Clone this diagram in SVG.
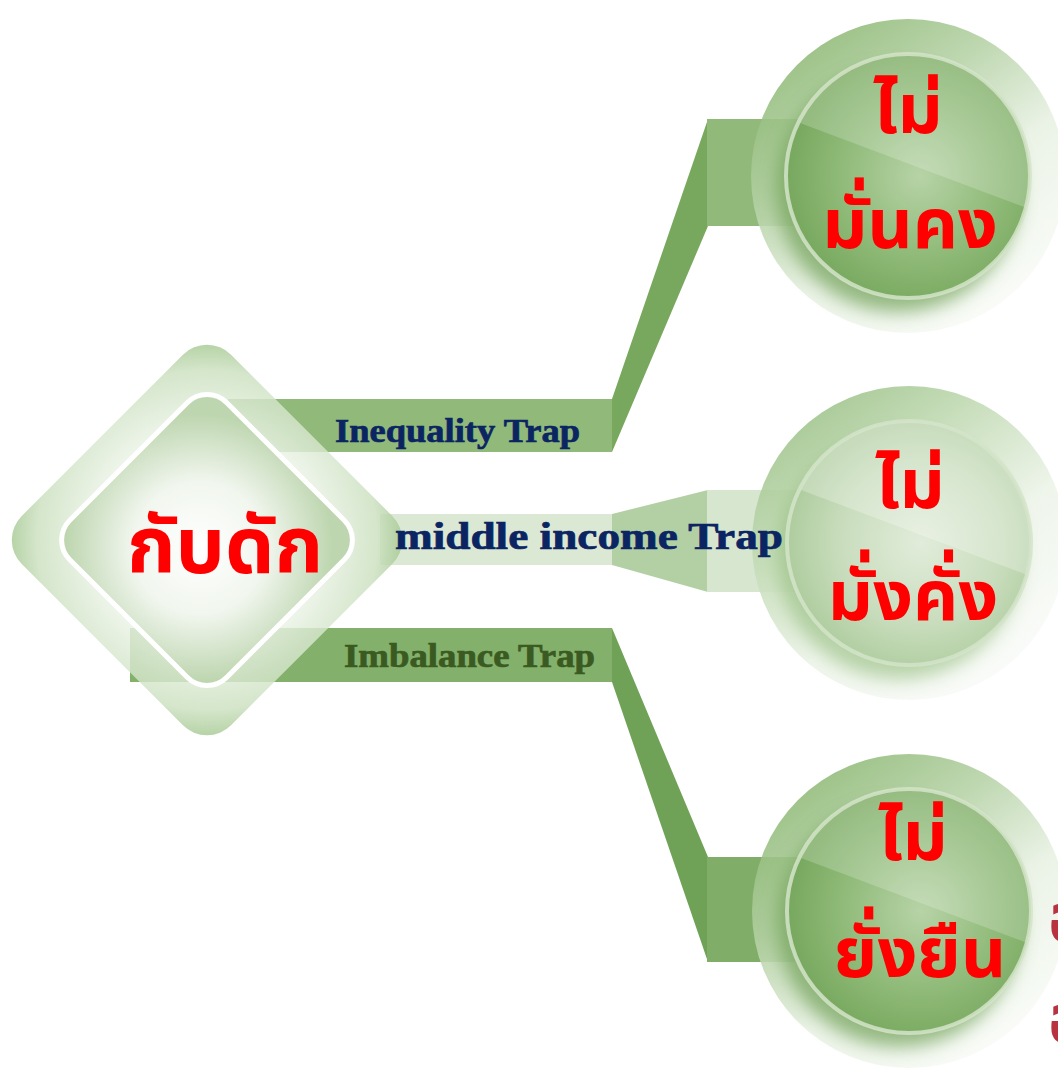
<svg xmlns="http://www.w3.org/2000/svg" width="1058" height="1072" viewBox="0 0 1058 1072">
<style>
.thai{font-family:'Noto Sans Thai','Noto Sans','DejaVu Sans',sans-serif;font-weight:bold;fill:#ff0000;text-anchor:middle}
.lbl{font-family:'Liberation Serif','DejaVu Serif',serif;font-weight:bold;stroke-width:0.7}
.rim{fill:none;stroke:#d3e4c9;stroke-width:4;stroke-opacity:0.85}
</style>
<defs>
<linearGradient id="ringG" x1="0.1" y1="0.05" x2="0.75" y2="0.95">
<stop offset="0" stop-color="#86b46c"/>
<stop offset="0.35" stop-color="#b4d1a4"/>
<stop offset="0.65" stop-color="#e8f1e3"/>
<stop offset="1" stop-color="#f8fbf6"/>
</linearGradient>
<linearGradient id="ringM" x1="0.1" y1="0.05" x2="0.75" y2="0.95">
<stop offset="0" stop-color="#98bf83"/>
<stop offset="0.35" stop-color="#c6ddb9"/>
<stop offset="0.65" stop-color="#edf4e9"/>
<stop offset="1" stop-color="#f9fbf8"/>
</linearGradient>
<radialGradient id="coreG" cx="0.55" cy="0.5" r="0.6">
<stop offset="0" stop-color="#b7d3a7"/>
<stop offset="0.55" stop-color="#8fba78"/>
<stop offset="1" stop-color="#72a458"/>
</radialGradient>
<radialGradient id="coreM" cx="0.55" cy="0.5" r="0.6">
<stop offset="0" stop-color="#e1ecda"/>
<stop offset="0.55" stop-color="#c9ddbd"/>
<stop offset="1" stop-color="#a8c897"/>
</radialGradient>
<radialGradient id="diaIn" cx="0.5" cy="0.55" r="0.6">
<stop offset="0" stop-color="#ffffff"/>
<stop offset="0.5" stop-color="#f1f6ee"/>
<stop offset="1" stop-color="#bed6b0"/>
</radialGradient>
<radialGradient id="diaOut" cx="0.5" cy="0.5" r="0.72">
<stop offset="0.5" stop-color="#eef5ea"/>
<stop offset="0.8" stop-color="#cbe0bf"/>
<stop offset="1" stop-color="#8cb974"/>
</radialGradient>
<filter id="blur" x="-30%" y="-30%" width="160%" height="160%"><feGaussianBlur stdDeviation="9"/></filter>
<clipPath id="upper"><polygon points="-140,-65 140,40 140,-140 -140,-140"/></clipPath>
</defs>

<rect width="1058" height="1072" fill="#ffffff"/>

<g id="connectors">
<rect x="228" y="399" width="384" height="53" fill="#90b97a"/>
<polygon points="612,399 708,119 708,226 612,452" fill="#77a85d"/>
<rect x="707" y="119" width="100" height="107" fill="#90b97a"/>
<rect x="380" y="514" width="232" height="51" fill="#dbe8d3"/>
<polygon points="612,514 708,490 708,592 612,565" fill="#b3cfa4"/>
<rect x="707" y="490" width="100" height="102" fill="#d7e6cf"/>
<rect x="130" y="628" width="482" height="54" fill="#83b06b"/>
<polygon points="612,628 708,857 708,962 612,682" fill="#6fa257"/>
<rect x="707" y="857" width="100" height="105" fill="#80ad67"/>
</g>

<g id="node-trap">
<rect x="-148" y="-148" width="296" height="296" rx="34" transform="translate(207,540) rotate(45)" fill="url(#diaOut)" fill-opacity="0.82"/>
<rect x="-111" y="-111" width="222" height="222" rx="28" transform="translate(207,540) rotate(45)" fill="url(#diaIn)" stroke="#ffffff" stroke-width="5"/>
<text class="thai" x="225" y="573" font-size="78">กับดัก</text>
</g>

<g id="node-insecure" transform="translate(908,176)">
<circle r="157" fill="url(#ringG)" fill-opacity="0.88"/>
<circle cx="-10" cy="14" r="122" fill="#6d9f53" opacity="0.7" filter="url(#blur)"/>
<circle r="122" fill="url(#coreG)"/>
<circle r="122" fill="#ffffff" fill-opacity="0.2" clip-path="url(#upper)"/>
<circle r="122" class="rim"/>
<text class="thai" x="0" y="-43" font-size="70">ไม่</text>
<text class="thai" x="2" y="72" font-size="70">มั่นคง</text>
</g>

<g id="node-unwealthy" transform="translate(909,543)">
<circle r="157" fill="url(#ringM)" fill-opacity="0.9"/>
<circle cx="-10" cy="14" r="122" fill="#8fba78" opacity="0.6" filter="url(#blur)"/>
<circle r="122" fill="url(#coreM)"/>
<circle r="122" fill="#ffffff" fill-opacity="0.25" clip-path="url(#upper)"/>
<circle r="122" class="rim"/>
<text class="thai" x="1" y="-35" font-size="70">ไม่</text>
<text class="thai" x="4" y="77" font-size="70">มั่งคั่ง</text>
</g>

<g id="node-unsustainable" transform="translate(909,911)">
<circle r="157" fill="url(#ringG)" fill-opacity="0.88"/>
<circle cx="-10" cy="14" r="122" fill="#6d9f53" opacity="0.7" filter="url(#blur)"/>
<circle r="122" fill="url(#coreG)"/>
<circle r="122" fill="#ffffff" fill-opacity="0.2" clip-path="url(#upper)"/>
<circle r="122" class="rim"/>
<text class="thai" x="4" y="-51" font-size="70">ไม่</text>
<text class="thai" x="11" y="66" font-size="70">ยั่งยืน</text>
</g>

<g id="labels">
<text class="lbl" x="335" y="442" font-size="34" fill="#0b2462" stroke="#0b2462" textLength="245" lengthAdjust="spacingAndGlyphs">Inequality Trap</text>
<text class="lbl" x="395" y="549" font-size="38" fill="#0b2462" stroke="#0b2462" textLength="388" lengthAdjust="spacingAndGlyphs">middle income Trap</text>
<text class="lbl" x="344" y="667" font-size="33" fill="#3a5a22" stroke="#3a5a22" textLength="251" lengthAdjust="spacingAndGlyphs">Imbalance Trap</text>
</g>

<g id="cut-text">
<text x="1048" y="942" font-size="70" font-family="'Noto Sans Thai','Noto Sans','DejaVu Sans',sans-serif" font-weight="bold" fill="#b8323f">อ</text>
<text x="1048" y="1043" font-size="70" font-family="'Noto Sans Thai','Noto Sans','DejaVu Sans',sans-serif" font-weight="bold" fill="#b8323f">อ</text>
</g>
</svg>
